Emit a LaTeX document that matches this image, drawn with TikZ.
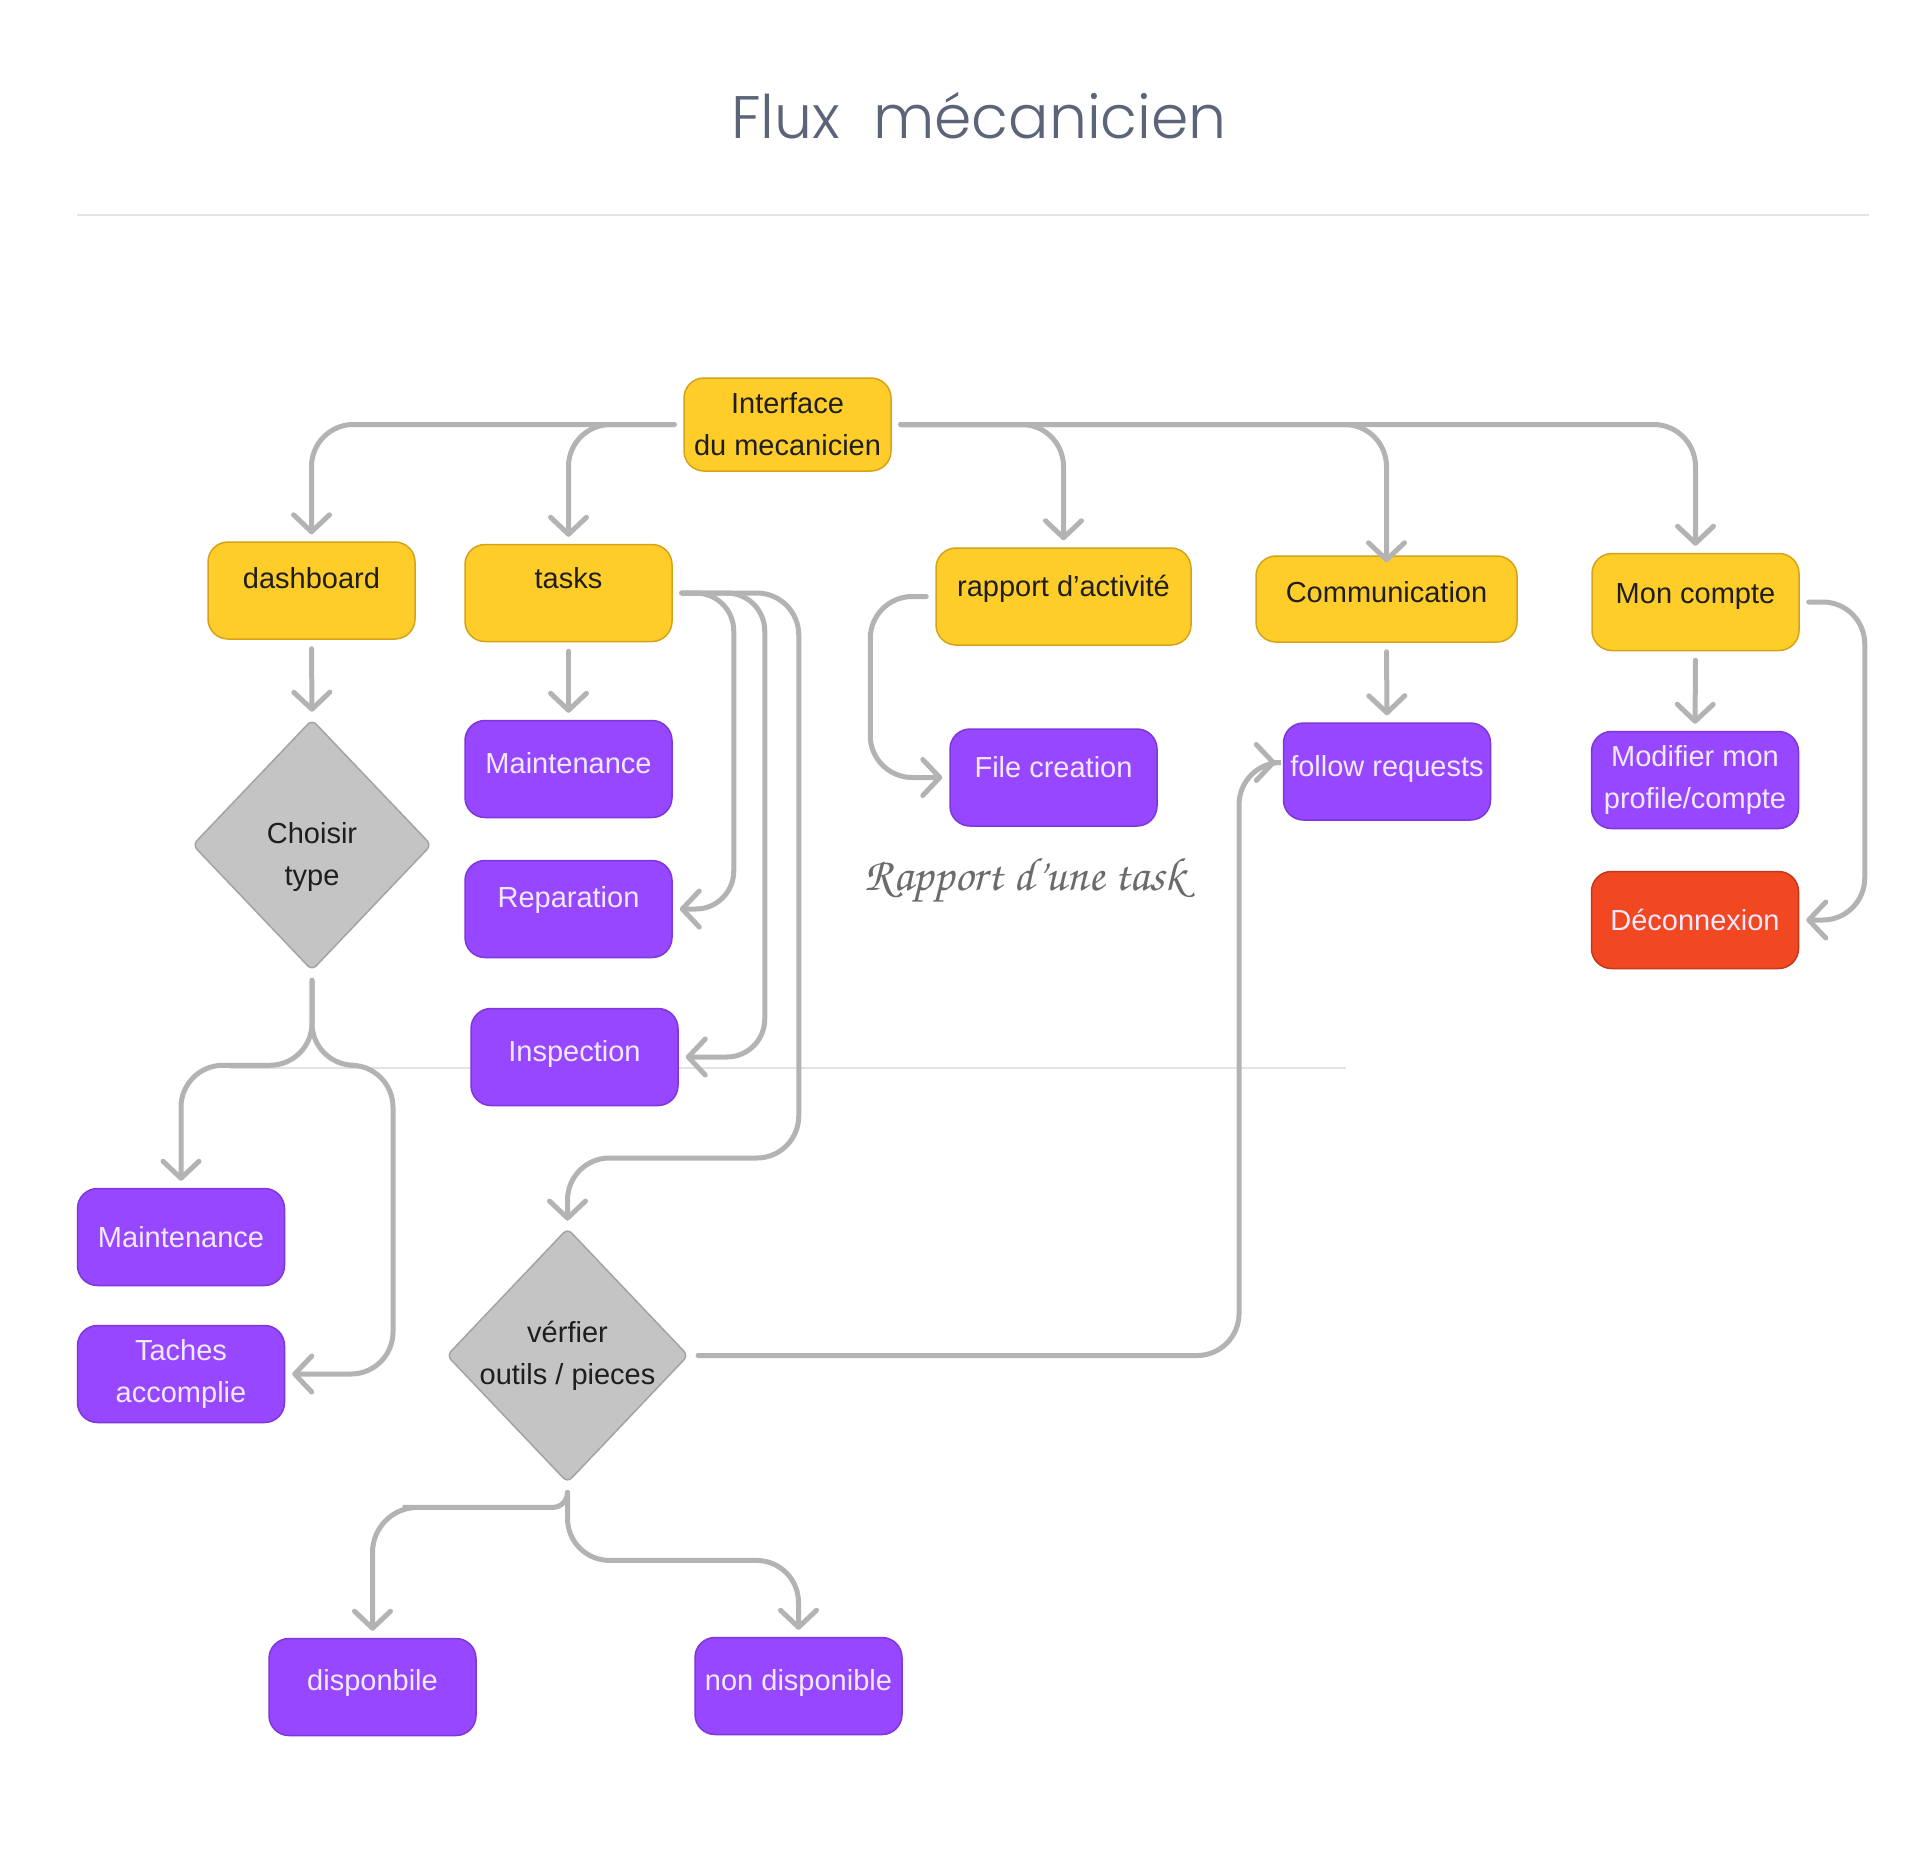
\documentclass[tikz,border=0pt]{standalone}
\usepackage{fontspec}
\usetikzlibrary{arrows.meta, shapes.geometric}
\setmainfont{Liberation Sans}
\IfFontExistsTF{Poppins Light}{\newfontfamily\titlefont{Poppins Light}}{\newfontfamily\titlefont{Lato}}
\IfFontExistsTF{texgyrechorus-mediumitalic.otf}{\newfontfamily\handfont{texgyrechorus-mediumitalic.otf}}{\newcommand\handfont{\itshape}}

\definecolor{jaune}{HTML}{FFCD29}
\definecolor{jauneBord}{HTML}{D4A418}
\definecolor{violetF}{HTML}{9747FF}
\definecolor{violetBord}{HTML}{7F36DB}
\definecolor{rouge}{HTML}{F24822}
\definecolor{rougeBord}{HTML}{C2381A}
\definecolor{gris}{HTML}{C4C4C4}
\definecolor{grisBord}{HTML}{A3A3A3}
\definecolor{fleche}{HTML}{B3B3B3}
\definecolor{titre}{HTML}{5B6479}
\definecolor{regle}{HTML}{E3E3E3}
\definecolor{texteClair}{HTML}{F0E9FF}
\definecolor{texteFonce}{HTML}{1E1E1E}
\definecolor{note}{HTML}{6B6B6B}

\tikzset{
    boite/.style = {rectangle, rounded corners = 20pt, draw, line width = 1.5pt, minimum width = 207pt, minimum height = 97pt, inner sep = 4pt, font = \fontsize{29}{42}\selectfont},
    jaune_boite/.style = {boite, fill = jaune, draw = jauneBord, text = texteFonce},
    violet_boite/.style = {boite, fill = violetF, draw = violetBord, text = texteClair},
    rouge_boite/.style = {boite, fill = rouge, draw = rougeBord, text = texteClair},
    losange/.style = {diamond, aspect = 0.95, fill = gris, draw = grisBord, line width = 1.5pt, rounded corners = 6pt, minimum width = 239pt, minimum height = 251pt, inner sep = 0pt, text = texteFonce, align = center, font = \fontsize{29}{42}\selectfont},
    decale/.style = {text height = 21pt, text depth = #1},
    liaison/.style = {draw = fleche, line width = 5pt, line cap = round, rounded corners = 42pt, -{Straight Barb[length = 17pt, width = 36pt, round]}, shorten <=9pt, shorten >=7pt}
}

\begin{document}
\begin{tikzpicture}[x = 1pt, y = -1pt]
            \fill[white] (0, 0) rectangle (1919, 1852);
            \useasboundingbox (0, 0) rectangle (1919, 1852);

            \node[anchor = base, text = titre, font = \titlefont\fontsize{60}{60}\selectfont] (titre) at (979, 138) {Flux~~mécanicien};
            \draw[draw = regle, line width = 2pt] (77, 215) -- (1869, 215);
            \draw[draw = regle, line width = 1.5pt] (230, 1068) -- (1346, 1068);

            \node[jaune_boite, align = center, minimum height = 93pt] (interface) at (787.5, 424.5) {Interface\\du mecanicien};

            \node[jaune_boite, decale = 25pt] (dashboard) at (311.5, 590.5) {dashboard};
            \node[jaune_boite, decale = 31pt] (tasks) at (568.5, 593) {tasks};
            \node[jaune_boite, decale = 22pt, minimum width = 255pt] (rapport) at (1063.5, 596.5) {rapport d’activité};
            \node[jaune_boite, decale = 15pt, minimum width = 261pt, minimum height = 86pt] (communication) at (1386.5, 599) {Communication};
            \node[jaune_boite, decale = 19pt] (mon_compte) at (1695.5, 602) {Mon compte};

            \node[losange] (choisir) at (312, 845) {\rule{0pt}{45pt}Choisir\\type};
            \node[violet_boite, decale = 1pt] (maintenance_c) at (181, 1237) {Maintenance};
            \node[violet_boite, align = center] (taches) at (181, 1374) {Taches\\accomplie};

            \node[violet_boite, decale = 13pt] (maintenance_t) at (568.5, 769) {Maintenance};
            \node[violet_boite, decale = 25pt] (reparation) at (568.5, 909) {Reparation};
            \node[violet_boite, decale = 13pt] (inspection) at (574.5, 1057) {Inspection};

            \node[losange] (verifier) at (567.5, 1355.5) {vérfier\\outils / pieces};
            \node[violet_boite, decale = 15pt] (disponible) at (372.5, 1687) {disponbile};
            \node[violet_boite, decale = 13pt] (non_disponible) at (798.5, 1686) {non disponible};

            \node[violet_boite, decale = 21pt] (file_creation) at (1053.5, 777.5) {File creation};
            \node[anchor = base, text = note, font = \handfont\fontsize{47}{47}\selectfont] (rapport_task) at (1025, 890) {Rapport d’une task};

            \node[violet_boite, decale = 11pt] (follow) at (1387, 771.5) {follow requests};

            \node[violet_boite, align = center] (modifier) at (1695, 780) {Modifier mon\\profile/compte};
            \node[rouge_boite, decale = 1pt] (deconnexion) at (1695, 920) {Déconnexion};

            \draw[liaison] (interface.west) -| (dashboard.north);
            \draw[liaison] (interface.west) -| (tasks.north);
            \draw[liaison] (interface.east) -| (rapport.north);
            \draw[liaison, shorten >=-7pt] (interface.east) -| (communication.north);
            \draw[liaison] (interface.east) -| (mon_compte.north);

            \draw[liaison] (dashboard.south) -- (choisir.north);
            \draw[liaison] (choisir.south) -- ++(0, 94) -| (maintenance_c.north);
            \draw[liaison] (choisir.south) -- ++(0, 94) -- ++(81, 0) |- (taches.east);

            \draw[liaison] (tasks.south) -- (maintenance_t.north);
            \draw[liaison, rounded corners = 38pt] (tasks.east) -- ++(61, 0) |- (reparation.east);
            \draw[liaison, rounded corners = 38pt] (tasks.east) -- ++(92, 0) |- (inspection.east);
            \draw[liaison] (tasks.east) -- ++(126, 0) -- ++(0, 565) -| (verifier.north);

            \draw[liaison] (verifier.south) [rounded corners = 15pt] -- ++(0, 24) -- ++(-150, 0) [rounded corners = 45pt] -| (disponible.north);
            \draw[liaison] (verifier.south) -- ++(0, 77) -| (non_disponible.north);
            \draw[liaison] (verifier.east) -- ++(550, 0) |- ([yshift = 9pt]follow.west);

            \draw[liaison] (rapport.west) -- ++(-65, 0) |- (file_creation.west);
            \draw[liaison] (communication.south) -- (follow.north);
            \draw[liaison] (mon_compte.south) -- (modifier.north);
            \draw[liaison] (mon_compte.east) -- ++(65, 0) |- (deconnexion.east);
        \end{tikzpicture}
\end{document}
